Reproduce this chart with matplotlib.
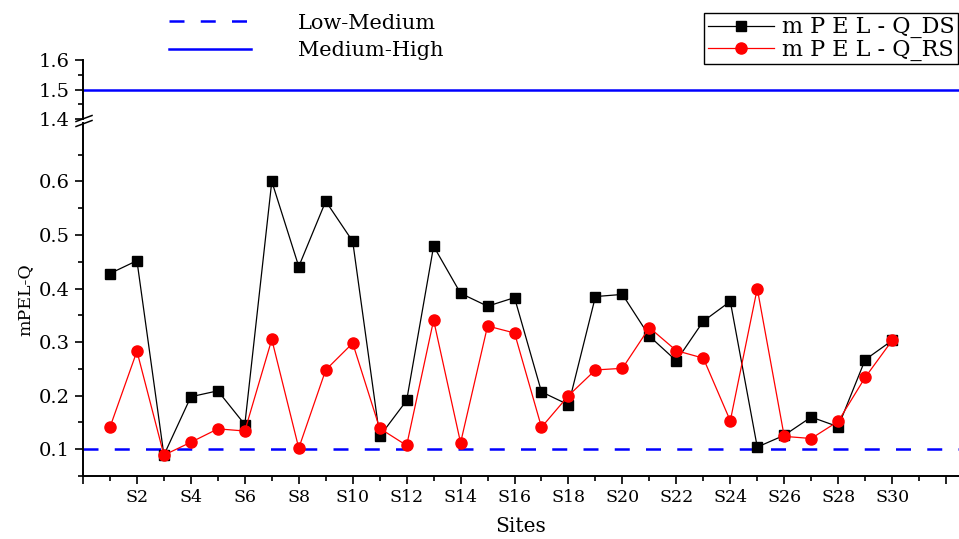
import numpy as np
import matplotlib.pyplot as plt
from matplotlib.lines import Line2D

plt.rcParams['font.family'] = ['DejaVu Serif']

# data, sites S1..S30
sites = ['S%d' % i for i in range(1, 31)]
mpel_ds = [0.428, 0.452, 0.089, 0.198, 0.209, 0.146, 0.600, 0.441, 0.563, 0.488,
           0.124, 0.191, 0.479, 0.391, 0.367, 0.383, 0.207, 0.183, 0.385, 0.389,
           0.311, 0.265, 0.339, 0.376, 0.104, 0.126, 0.160, 0.142, 0.267, 0.303]
mpel_rs = [0.141, 0.283, 0.089, 0.113, 0.138, 0.134, 0.305, 0.102, 0.248, 0.298,
           0.139, 0.107, 0.341, 0.112, 0.330, 0.317, 0.141, 0.200, 0.248, 0.251,
           0.327, 0.284, 0.270, 0.153, 0.400, 0.124, 0.120, 0.152, 0.234, 0.303]
low_medium = 0.1
medium_high = 1.5

x = np.arange(1, len(sites) + 1)
tick_pos = np.arange(0, 33, 2)
tick_lab = [''] + [sites[i - 1] for i in tick_pos[1:-1]] + ['']

fs = 12.5
dash = (0, (6, 6.5))

fig = plt.figure(figsize=(9.59, 5.39), dpi=100)
W, H = 959, 539
ax = fig.add_axes([83 / W, 1 - 476 / H, 1 - 83 / W, (476 - 123) / H])
axt = fig.add_axes([83 / W, 1 - 119 / H, 1 - 83 / W, (119 - 60) / H])

for a in (ax, axt):
    a.set_xlim(0, 32.48)
    a.spines['top'].set_visible(False)
    a.spines['right'].set_visible(False)
    a.tick_params(which='major', direction='out', length=6, width=1.2, labelsize=fs)
    a.tick_params(axis='y', labelsize=14)
    a.tick_params(which='minor', direction='out', length=3.5, width=1.2)
    a.spines['left'].set_linewidth(1.4)
    a.spines['bottom'].set_linewidth(1.4)
    a.axhline(low_medium, color='blue', lw=1.8, ls=dash, zorder=1)
    a.axhline(medium_high, color='blue', lw=1.8, zorder=1)
    a.plot(x, mpel_ds, color='black', lw=0.9, marker='s', ms=7.5, zorder=3)
    a.plot(x, mpel_rs, color='red', lw=0.9, marker='o', ms=8, zorder=3)

ax.set_ylim(0.05, 0.709)
ax.set_yticks([0.1, 0.2, 0.3, 0.4, 0.5, 0.6])
ax.set_yticks(np.arange(0.05, 0.70, 0.1), minor=True)
ax.set_xticks(tick_pos)
ax.set_xticklabels(tick_lab)
ax.set_xticks(np.arange(1, 32, 2), minor=True)
ax.set_ylabel('mPEL-Q', fontsize=fs, labelpad=4)
ax.set_xlabel('Sites', fontsize=14.5, labelpad=8)

axt.set_ylim(1.4, 1.6)
axt.set_yticks([1.4, 1.5, 1.6])
axt.set_yticks([1.45, 1.55], minor=True)
axt.spines['bottom'].set_visible(False)
axt.set_xticks([])
axt.patch.set_visible(False)

# break marks on the y axis
for dy in (-2.5, 2.5):
    yb = 1 - (121 + dy) / H
    fig.add_artist(Line2D([76 / W, 92 / W], [yb - 3 / H, yb + 3 / H],
                          color='black', lw=1.1, transform=fig.transFigure))

# legends
h1 = [Line2D([], [], color='blue', lw=1.8, ls=dash),
      Line2D([], [], color='blue', lw=1.8)]
fig.legend(h1, ['Low-Medium', 'Medium-High'], loc='upper left',
           bbox_to_anchor=(150 / W, 1 + 5 / H), frameon=False, fontsize=15,
           handlelength=3.95, handletextpad=2.25, labelspacing=0.4)

h2 = [Line2D([], [], color='black', lw=0.9, marker='s', ms=7.5),
      Line2D([], [], color='red', lw=0.9, marker='o', ms=8)]
leg = fig.legend(h2, ['m P E L - Q_DS', 'm P E L - Q_RS'], loc='upper right',
                 bbox_to_anchor=(958 / W, 1 - 13 / H), fontsize=16, fancybox=False,
                 edgecolor='black', framealpha=1, handlelength=3.0, handletextpad=0.35,
                 labelspacing=0.02, borderpad=0.15, borderaxespad=0)
leg.get_frame().set_linewidth(1.0)

fig.savefig('out.png', dpi=100)
